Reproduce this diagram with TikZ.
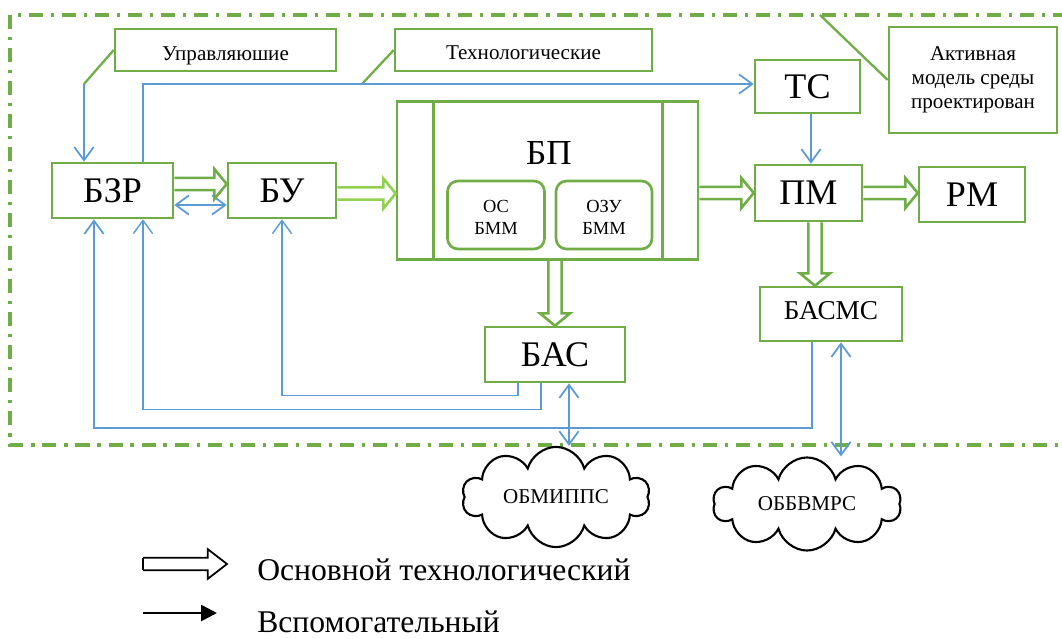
\documentclass[tikz,border=0pt]{standalone}
\usepackage{fontspec}
\setmainfont{Liberation Serif}
\usetikzlibrary{arrows.meta,calc,shapes.symbols}
\definecolor{grn}{HTML}{70AD47}
\definecolor{lgrn}{HTML}{92D050}
\definecolor{blu}{HTML}{5B9BD5}
\tikzset{blok/.style={draw=grn, line width=1.5pt, inner sep=0pt, font=\fontsize{20.5}{22}\selectfont},
  note/.style={draw=grn, line width=1.5pt, inner sep=0pt, align=center, font=\fontsize{12}{13.6}\selectfont},
  mem/.style={blok, rounded corners=6pt, align=center, font=\fontsize{10.5}{11.9}\selectfont},
  sig/.style={draw=blu, line width=1pt, -{Straight Barb[length=7.5pt,width=11pt]}},
  sigs/.style={sig, {Straight Barb[length=7.5pt,width=11pt]}-{Straight Barb[length=7.5pt,width=11pt]}},
  fat/.style={draw=grn, line width=1.5pt, line join=miter},
  obl/.style={cloud, draw=black, line width=1.2pt, cloud puffs=10, aspect=2.2, inner sep=0pt, font=\fontsize{12}{14}\selectfont}}
% hollow arrows: head length
\def\fh{7pt}
\newcommand{\hfat}[3][fat]{\draw[#1] let \p1=#2, \p2=#3 in (\x1,\y1+3.5pt) -- (\x2-\fh,\y1+3.5pt) -- (\x2-\fh,\y1+8.5pt) -- (\x2,\y1) -- (\x2-\fh,\y1-8.5pt) -- (\x2-\fh,\y1-3.5pt) -- (\x1,\y1-3.5pt);}
\newcommand{\vfat}[3][fat]{\draw[#1] let \p1=#2, \p2=#3 in (\x1-3.8pt,\y1) -- (\x1-3.8pt,\y2+\fh) -- (\x1-8.5pt,\y2+\fh) -- (\x1,\y2) -- (\x1+8.5pt,\y2+\fh) -- (\x1+3.8pt,\y2+\fh) -- (\x1+3.8pt,\y1);}
% shifted text, same box
\newcommand{\sink}[2]{\raisebox{#1}[\height][\depth]{#2}}

\begin{document}
\begin{tikzpicture}[x=0.02cm, y=-0.02cm]
    \useasboundingbox (0,0) rectangle (1062,639);
    % frame
    \draw[grn, line width=1.8pt, dash pattern=on 8pt off 4.5pt on 1.8pt off 4.5pt] (1100,15) -| (10,445) -- (1100,445);
    \node[note, minimum width=4.42cm, minimum height=0.84cm] (upr) at (225.5,50) {\sink{-0.12cm}{Управляюшие}};
    \node[note, minimum width=5.14cm, minimum height=0.84cm] (teh) at (523.5,50) {\sink{-0.06cm}{Технологические}};
    \node[note, minimum width=3.36cm, minimum height=2.12cm] (akt) at (973,80) {Активная\\модель среды\\проектирован};
    \node[blok, minimum width=2.1cm, minimum height=1.06cm] (ts) at (807.5,86.5) {ТС};
    \node[blok, minimum width=2.42cm, minimum height=1.1cm] (bzr) at (112.5,190.5) {БЗР};
    \node[blok, minimum width=2.16cm, minimum height=1.1cm] (bu) at (282,190.5) {БУ};
    \node[blok, minimum width=6.02cm, minimum height=3.16cm] (bp) at (547.5,180.5) {};
    \node[font=\fontsize{20}{22}\selectfont] (bpt) at (549,153) {БП};
    \node[mem, minimum width=1.94cm, minimum height=1.36cm] (os) at (496,215) {\sink{-0.05cm}{\shortstack{ОС\\[2.5pt]БММ}}};
    \node[mem, minimum width=1.92cm, minimum height=1.36cm] (ozu) at (604,215) {\sink{-0.05cm}{\shortstack{ОЗУ\\[2.5pt]БММ}}};
    \node[blok, minimum width=2.14cm, minimum height=1.12cm] (pm) at (808.5,193) {ПМ};
    \node[blok, minimum width=2.12cm, minimum height=1.1cm] (rm) at (972,194.5) {РМ};
    \node[blok, minimum width=2.84cm, minimum height=1.08cm, font=\fontsize{15.5}{17}\selectfont] (basms) at (831,314) {\sink{0.06cm}{БАСМС}};
    \node[blok, minimum width=2.8cm, minimum height=1.1cm] (bas) at (555,354.5) {БАС};
    \node[obl, minimum width=3.76cm, minimum height=1.66cm] (obm) at (556,497) {ОБМИППС};
    \node[obl, minimum width=3.76cm, minimum height=1.7cm] (obb) at (807,504) {ОББВМРС};
    \draw[grn, line width=1.5pt] ([xshift=0.76cm]bp.north west) -- ([xshift=0.76cm]bp.south west);
    \draw[grn, line width=1.5pt] ([xshift=-0.74cm]bp.north east) -- ([xshift=-0.74cm]bp.south east);
    % callouts
    \coordinate (c1) at (84,84);
    \coordinate (c2) at (362,84);
    \coordinate (c3) at (820,15);
    \coordinate (t1) at (143,84);
    \draw[grn, line width=1.3pt] (upr.west) -- (c1);
    \draw[grn, line width=1.3pt] (teh.west) -- (c2);
    \draw[grn, line width=1.3pt] (c3) -- (akt.west);
    % blue signals
    \draw[sig] (c1) -- (c1 |- bzr.north);
    \draw[sig] (t1 |- bzr.north) -- (t1) -- (t1 -| ts.west);
    \draw[sig] ([xshift=0.07cm]ts.south) -- ([xshift=0.07cm]ts.south |- pm.north);
    \draw[sigs] ([yshift=-0.29cm]bzr.east) -- ([yshift=-0.29cm]bu.west);
    \draw[sig, line width=0.8pt] ([xshift=-0.74cm]bas.south) -- ++(0,12) -| (bu.south);
    \draw[sig, line width=0.8pt] ([xshift=-0.28cm]bas.south) -- ++(0,26) -| ([xshift=0.61cm]bzr.south);
    \draw[sig] ([xshift=-0.38cm]basms.south) -- ++(0,86) -| ([xshift=-0.37cm]bzr.south);
    \coordinate (d1) at ([xshift=0.28cm]bas.south);
    \coordinate (d2) at ([xshift=0.2cm]basms.south);
    \draw[sigs] (d1) -- (d1 |- obm.north);
    \draw[sigs] (d2) -- (d2 |- obb.north);
    % hollow arrows
    \hfat{([yshift=0.13cm]bzr.east)}{([yshift=0.13cm]bu.west)}
    \hfat[fat, draw=lgrn]{([yshift=-0.06cm]bu.east)}{([yshift=-0.06cm]bu.east -| bp.west)}
    \hfat{(bp.east |- pm.west)}{(pm.west)}
    \hfat{(pm.east)}{(pm.east -| rm.west)}
    \vfat{(bas.north |- bp.south)}{(bas.north)}
    \vfat{([xshift=0.13cm]pm.south)}{([xshift=0.13cm]pm.south |- basms.north)}
    % legend
    \def\fh{11pt}
    \coordinate (la) at (143,564);
    \coordinate (lb) at (227,564);
    \coordinate (lc) at (143,613);
    \coordinate (ld) at (217,613);
    \hfat[fat, draw=black, line width=1pt]{(la)}{(lb)}
    \draw[black, line width=1pt] ([yshift=3.5pt]la) -- ([yshift=-3.5pt]la);
    \draw[black, line width=1.5pt, -{Triangle[length=9pt,width=9pt]}] (lc) -- (ld);
    \node[anchor=west, inner sep=0pt, font=\fontsize{18}{20}\selectfont] (lt1) at (257,570) {Основной технологический};
    \node[anchor=west, inner sep=0pt, font=\fontsize{18}{20}\selectfont] (lt2) at (257,622) {Вспомогательный};
\end{tikzpicture}
\end{document}
